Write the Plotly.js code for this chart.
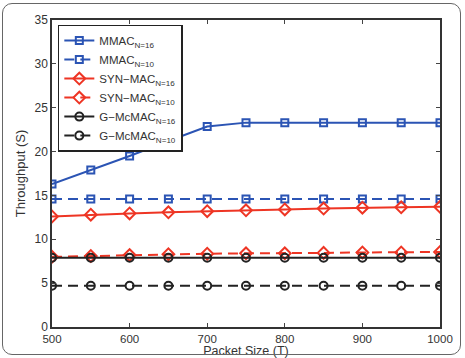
<!DOCTYPE html>
<html><head><meta charset="utf-8">
<script src="https://cdn.plot.ly/plotly-3.0.1.min.js"></script>
<style>
html,body{margin:0;padding:0;background:#fff;}
#wrap{position:relative;width:465px;height:358px;}
#frame{position:absolute;left:2px;top:3px;width:457px;height:350px;border:1.5px solid #666;border-radius:10px;pointer-events:none;}
</style></head>
<body><div id="wrap"><div id="chart" style="width:465px;height:358px;"></div><div id="frame"></div></div>
<script>
const packetSize = [500,550,600,650,700,750,800,850,900,950,1000];
const mmac16 = [16.3,17.9,19.5,21.2,22.85,23.3,23.3,23.3,23.3,23.3,23.3];
const mmac10 = [14.6,14.6,14.6,14.6,14.6,14.6,14.6,14.6,14.6,14.6,14.6];
const syn16 = [12.6,12.8,12.95,13.07,13.2,13.3,13.4,13.5,13.6,13.65,13.7];
const syn10 = [8.0,8.1,8.2,8.3,8.35,8.4,8.4,8.45,8.5,8.5,8.55];
const g16 = [7.9,7.9,7.9,7.9,7.9,7.9,7.9,7.9,7.9,7.9,7.9];
const g10 = [4.7,4.7,4.7,4.7,4.7,4.7,4.7,4.7,4.7,4.7,4.7];
const names = ['MMAC<sub>N=16</sub>','MMAC<sub>N=10</sub>','SYN\u2212MAC<sub>N=16</sub>','SYN\u2212MAC<sub>N=10</sub>','G\u2212McMAC<sub>N=16</sub>','G\u2212McMAC<sub>N=10</sub>'];
const blue='#2b54b4', red='#ee3524', black='#222222';
function tr(y,name,color,dash,symbol,size){
  return {x:packetSize,y:y,name:name,type:'scatter',mode:'lines+markers',
    line:{color:color,width:2,dash:dash},
    marker:{symbol:symbol,size:size,color:color,line:{color:color,width:2}}};
}
const DASH='10px,6px';
const data=[
  tr(mmac16,names[0],blue,'solid','square-open',7),
  tr(mmac10,names[1],blue,DASH,'square-open',7),
  tr(syn16,names[2],red,'solid','diamond-open',9),
  tr(syn10,names[3],red,DASH,'diamond-open',9),
  tr(g16,names[4],black,'solid','circle-open',8),
  tr(g10,names[5],black,DASH,'circle-open',8)
];
const layout={
  width:465,height:358,
  margin:{l:52,r:25,t:20,b:31},
  paper_bgcolor:'#fff',plot_bgcolor:'#fff',
  font:{family:'Liberation Sans, Arial, sans-serif',size:12,color:'#333'},
  showlegend:true,
  legend:{x:0.015,y:0.985,xanchor:'left',yanchor:'top',bgcolor:'#fff',bordercolor:'#222',borderwidth:1.5,
    font:{size:11.5,color:'#333'},tracegroupgap:0},
  xaxis:{range:[500,1000],tickvals:[500,600,700,800,900,1000],ticks:'inside',ticklen:4,
    tickfont:{size:11.5},
    showgrid:false,zeroline:false,showline:true,mirror:'ticks',linecolor:'#333',linewidth:1.5,
    title:{text:'Packet Size (T)',font:{size:12.5},standoff:7}},
  yaxis:{range:[0,35],tickvals:[0,5,10,15,20,25,30,35],ticks:'inside',ticklen:4,
    showgrid:false,zeroline:false,showline:true,mirror:'ticks',linecolor:'#333',linewidth:1.5,
    title:{text:'Throughput (S)',font:{size:13},standoff:6}}
};
Plotly.newPlot('chart',data,layout,{displayModeBar:false});
</script></body></html>
